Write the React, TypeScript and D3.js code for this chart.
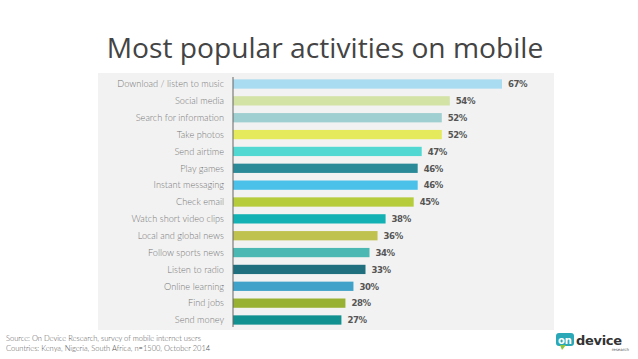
import React from "react";
import * as d3 from "d3";

const categories = [
  "Download / listen to music",
  "Social media",
  "Search for information",
  "Take photos",
  "Send airtime",
  "Play games",
  "Instant messaging",
  "Check email",
  "Watch short video clips",
  "Local and global news",
  "Follow sports news",
  "Listen to radio",
  "Online learning",
  "Find jobs",
  "Send money",
];
const values = [67, 54, 52, 52, 47, 46, 46, 45, 38, 36, 34, 33, 30, 28, 27];
const colors = [
  "#a9dbf1", "#d3e2a5", "#9fcfd1", "#e5ea5c", "#52d8d3", "#2b8a97", "#4bc1e9", "#b6cc3b",
  "#12b1b3", "#c0c24f", "#4bb8b3", "#1f6f7e", "#40a2c9", "#99b132", "#11918f",
];

export default function App() {
  const W = 638, H = 359;
  const x = d3.scaleLinear().domain([0, 67]).range([233, 502]);
  const y = d3.scaleBand().domain(categories).range([76, 328]).paddingInner(0.45).paddingOuter(0.2);
  return (
    <svg width={W} height={H} style={{ position: "absolute", left: 0, top: 0, background: "#fff" }}>
      <rect x={0} y={0} width={W} height={H} fill="#fff" />
      <text x={325} y={58} textAnchor="middle" fontFamily="'Open Sans'" fontSize={28.2} fill="#444">
        Most popular activities on mobile
      </text>
      <rect x={98} y={73} width={456} height={257} fill="#f2f2f2" />
      {categories.map((c, i) => (
        <g key={c}>
          <rect x={x(0)} y={y(c)!} width={x(values[i]) - x(0)} height={y.bandwidth()} fill={colors[i]} />
          <text x={224} y={y(c)! + y.bandwidth() / 2} dy="0.35em" textAnchor="end" fontFamily="Lato" fontWeight={300} fontSize={9.2} fill="#777">
            {c}
          </text>
          <text x={x(values[i]) + 6} y={y(c)! + y.bandwidth() / 2} dy="0.35em" fontFamily="'Liberation Sans Narrow', 'DejaVu Sans Condensed', Roboto" fontWeight={700} fontSize={9.5} fill="#555" letterSpacing={-0.4}>
            {values[i]}%
          </text>
        </g>
      ))}
      <line x1={x(0)} x2={x(0)} y1={77} y2={327} stroke="#666" strokeWidth={1} />
      <text x={6} y={341} fontFamily="Lato" fontWeight={300} fontSize={7.5} fill="#555">
        Source: On Device Research, survey of mobile internet users
      </text>
      <text x={6} y={351} fontFamily="Lato" fontWeight={300} fontSize={7.5} fill="#555">
        Countries: Kenya, Nigeria, South Africa, n=1500, October 2014
      </text>
      <g>
        <rect x={556} y={333} width={18} height={13} rx={3} fill="#2aa8b8" />
        <path d="M560 345 L562 350 L566 345 Z" fill="#8cc63f" />
        <text x={565} y={343.5} textAnchor="middle" fontFamily="'DejaVu Sans'" fontWeight={700} fontSize={10} fill="#fff">on</text>
        <text x={576} y={345} fontFamily="'DejaVu Sans'" fontWeight={700} fontSize={13} fill="#333" letterSpacing={-0.3}>device</text>
        <text x={629} y={351} textAnchor="end" fontFamily="'DejaVu Sans'" fontSize={4} fill="#555">research</text>
      </g>
    </svg>
  );
}
